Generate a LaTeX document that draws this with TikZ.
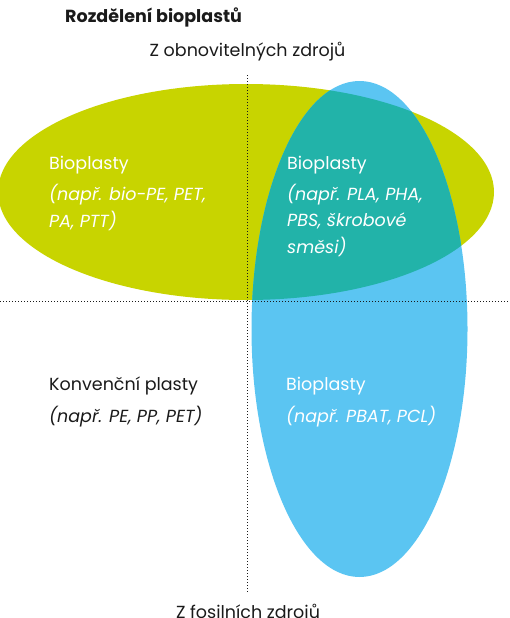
\documentclass[tikz,border=0pt]{standalone}
\usepackage{fontspec}
\setmainfont{Poppins}
\definecolor{ylw}{HTML}{C8D400}
\definecolor{blu}{HTML}{5BC5F2}
\definecolor{tea}{HTML}{22B3A9}
\definecolor{ink}{HTML}{1A1A1A}
\newcommand{\lblsize}{\fontsize{17.5}{20}\selectfont}
\begin{document}
\begin{tikzpicture}[x=1pt,y=-1pt,
  lbl/.style={anchor=west,inner sep=0pt,font=\lblsize},
  ilbl/.style={font=\itshape\lblsize},
  wlbl/.style={lbl,text=white},
  klbl/.style={lbl,text=ink},
  guide/.style={ink,line width=0.9pt,dash pattern=on 0.9pt off 2.1pt}]
\useasboundingbox (0,0) rectangle (510,618);
% ellipses
\fill[ylw] (246,192) ellipse [x radius=248, y radius=108];
\fill[blu] (359.5,329) ellipse [x radius=108, y radius=248];
\begin{scope}
  \clip (246,192) ellipse [x radius=248, y radius=108];
  \fill[tea] (359.5,329) ellipse [x radius=108, y radius=248];
\end{scope}
% guides
\coordinate (vt) at (247,75);
\coordinate (vb) at (247,592);
\coordinate (hl) at (0,301);
\coordinate (hr) at (510,301);
\draw[guide] (vt) -- (vb);
\draw[guide] (hl) -- (hr);
% texts
\node[klbl,font=\bfseries\fontsize{17.5}{20}\selectfont] (title) at (65,17) {Rozdělení bioplastů};
\node[klbl,anchor=center] (top) at (247.5,52) {Z obnovitelných zdrojů};
\node[klbl,anchor=center] (bot) at (248,614) {Z fosilních zdrojů};
\node[wlbl] (a1) at (49,165) {Bioplasty};
\node[wlbl,ilbl] (a2) at (49,195) {(např. bio-PE, PET,};
\node[wlbl,ilbl] (a3) at (49,221) {PA, PTT)};
\node[wlbl] (b1) at (287,165) {Bioplasty};
\node[wlbl,ilbl] (b2) at (287,195) {(např. PLA, PHA,};
\node[wlbl,ilbl] (b3) at (287,221) {PBS, škrobové};
\node[wlbl,ilbl] (b4) at (287,247) {směsi)};
\node[klbl] (c1) at (49,386) {Konvenční plasty};
\node[klbl,ilbl] (c2) at (49,417) {(např. PE, PP, PET)};
\node[wlbl] (d1) at (286,386) {Bioplasty};
\node[wlbl,ilbl] (d2) at (286,417) {(např. PBAT, PCL)};
\end{tikzpicture}
\end{document}
